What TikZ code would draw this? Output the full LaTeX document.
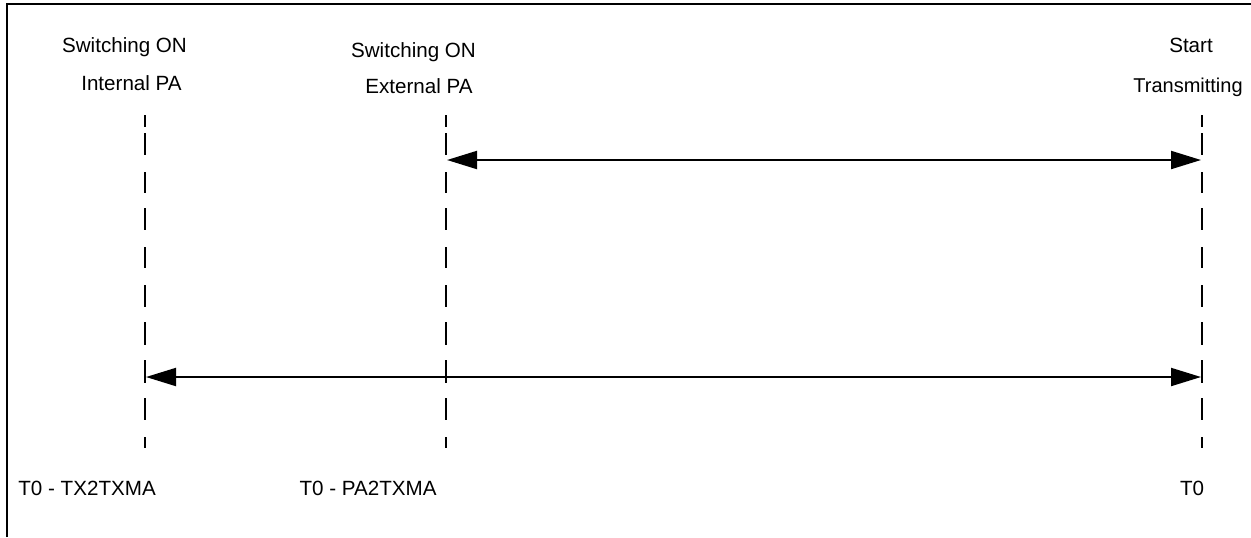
\documentclass[tikz,border=0pt]{standalone}
\usepackage{fontspec}
\setmainfont{Liberation Sans}
\usetikzlibrary{arrows.meta}
\begin{document}
\begin{tikzpicture}[x=0.5pt,y=-0.5pt,
  lbl/.style={inner sep=0pt,anchor=base,font=\fontsize{10.3}{12}\selectfont},
  life/.style={line width=1pt,dash pattern=on 6pt off 3pt on 11pt off 8.5pt on 10.5pt off 7.5pt on 11pt off 8.5pt on 10.5pt off 8.5pt on 11pt off 7.5pt on 11.5pt off 7.5pt on 11.5pt off 7.5pt on 11pt off 8.5pt on 5.5pt off 60pt},
  span/.style={line width=1pt,{Triangle[length=15pt,width=9pt]}-{Triangle[length=15pt,width=9pt]}}]
\useasboundingbox (0,0) rectangle (1251,537);
\draw[line width=1.3pt,line join=miter] (7,537) -- (7,4) -- (1251,4);
% lifelines
\coordinate (aT) at (145,115); \coordinate (aB) at (145,448);
\coordinate (bT) at (446,115); \coordinate (bB) at (446,448);
\coordinate (cT) at (1202,115); \coordinate (cB) at (1202,448);
\draw[life] (aT) -- (aB);
\draw[life] (bT) -- (bB);
\draw[life] (cT) -- (cB);
% spans
\coordinate (b1) at (447,160); \coordinate (c1) at (1201,160);
\coordinate (a2) at (146,377); \coordinate (c2) at (1201,377);
\draw[span] (b1) -- (c1);
\draw[span] (a2) -- (c2);
% labels
\node[lbl] (l1) at (124.5,52) {Switching ON};
\node[lbl] (l2) at (131.5,90) {Internal PA};
\node[lbl] (m1) at (413.5,57) {Switching ON};
\node[lbl] (m2) at (419,93) {External PA};
\node[lbl] (r1) at (1191,52) {Start};
\node[lbl,font=\fontsize{10}{12}\selectfont] (r2) at (1188,92) {Transmitting};
\node[lbl,anchor=base west] (t1) at (18,495) {T0 - TX2TXMA};
\node[lbl] (t2) at (368,495) {T0 - PA2TXMA};
\node[lbl] (t3) at (1192,495) {T0};
\end{tikzpicture}
\end{document}
